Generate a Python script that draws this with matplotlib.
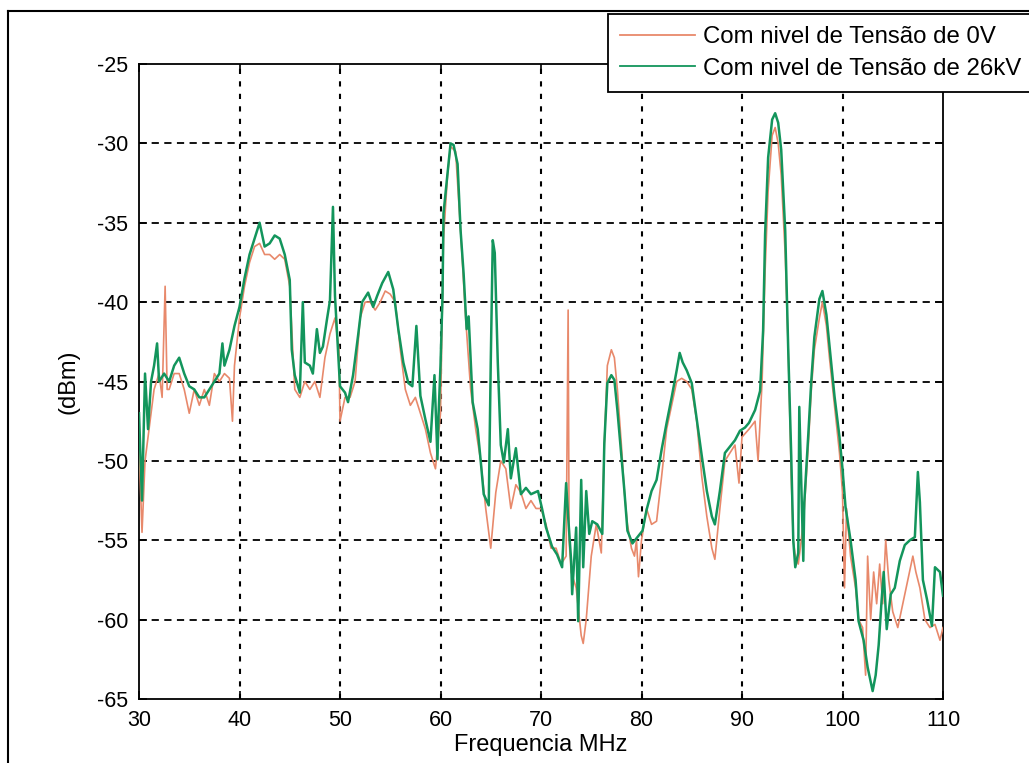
import matplotlib
matplotlib.use("Agg")
import matplotlib.pyplot as plt
from matplotlib.lines import Line2D

# ---------------- data ----------------
freq_0v = [30.0, 30.3, 30.6, 31.0, 31.5, 32.0, 32.3, 32.6, 32.8, 33.0, 33.5, 34.0, 34.5, 35.0, 35.5,
           36.0, 36.5, 37.0, 37.5, 38.0, 38.5, 39.0, 39.3, 39.5, 40.0, 40.5, 41.0, 41.5, 42.0, 42.5,
           43.0, 43.5, 44.0, 44.5, 45.0, 45.3, 45.5, 46.0, 46.5, 47.0, 47.5, 48.0, 48.5, 49.0, 49.5,
           49.9, 50.0, 50.5, 51.0, 51.5, 52.0, 52.5, 53.0, 53.5, 54.0, 54.5, 55.0, 55.5, 56.0, 56.5,
           57.0, 57.5, 58.0, 58.5, 59.0, 59.5, 60.0, 60.3, 60.7, 61.0, 61.5, 62.0, 62.5, 63.0, 63.5,
           64.0, 64.5, 65.0, 65.5, 66.0, 66.5, 67.0, 67.5, 68.0, 68.5, 69.0, 69.5, 70.0, 70.5, 71.0,
           71.5, 72.0, 72.5, 72.7, 72.8, 73.0, 73.5, 74.0, 74.2, 74.5, 75.0, 75.5, 76.0, 76.3, 76.6,
           77.0, 77.3, 77.6, 78.0, 78.3, 78.6, 79.0, 79.3, 79.5, 79.7, 80.0, 80.5, 81.0, 81.5, 82.0,
           82.5, 83.0, 83.5, 84.0, 84.5, 85.0, 85.5, 86.0, 86.5, 87.0, 87.3, 87.8, 88.3, 88.8, 89.3,
           89.7, 90.0, 90.7, 91.3, 91.6, 92.0, 92.3, 92.6, 93.0, 93.3, 93.6, 93.9, 94.3, 94.6, 94.9,
           95.1, 95.3, 95.6, 95.9, 96.2, 96.6, 96.9, 97.2, 97.7, 98.0, 98.4, 98.7, 99.2, 99.7, 100.0,
           100.2, 100.4, 100.8, 101.3, 101.6, 102.0, 102.3, 102.5, 102.8, 103.1, 103.4, 103.7, 104.0,
           104.3, 104.6, 105.0, 105.5, 106.0, 106.5, 107.0, 107.3, 107.7, 108.2, 108.7, 109.2, 109.7,
           110.0]
dbm_0v = [-49, -54.5, -50, -48, -45.5, -44.5, -46, -39, -45.5, -45.5, -44.5, -44.5, -45.5, -47, -45.5,
          -46.5, -45.5, -46.5, -44.5, -45, -44.5, -44.8, -47.5, -44, -41, -39, -37.5, -36.5, -36.3, -37,
          -37, -37.3, -37, -37.3, -39, -43, -45.5, -46, -45, -45.5, -45, -46, -43.5, -42, -41,
          -43, -47.5, -46, -46, -45, -41, -40, -40, -40.5, -40, -39.3, -39.5, -40, -43, -45.5,
          -46.5, -46, -47, -48, -49.5, -50.5, -47, -36, -32, -30.2, -30.5, -35.5, -41, -45.5, -48,
          -50, -53, -55.5, -52, -50, -50.5, -53, -51.5, -52, -53, -52.5, -53, -53, -54, -55.5,
          -55.5, -56.5, -56, -40.5, -55, -57, -58, -61, -61.5, -60, -56, -54, -55.8, -49, -44,
          -43, -43.5, -45.5, -49, -52, -54, -55.5, -56, -55, -57.3, -55, -53, -54, -53.8, -51,
          -48, -46.5, -45, -44.8, -45, -45.5, -47.5, -51, -53.5, -55.5, -56.2, -53, -50, -49.5, -49,
          -51.4, -48.5, -48, -47.5, -50, -45, -38, -33, -29.5, -29, -30, -32, -37, -43, -51,
          -55, -56, -56.5, -55, -53, -49, -45.5, -43, -41, -40, -41.5, -43.5, -46.5, -49.5, -52,
          -58, -53, -56, -58, -60, -60.5, -63.5, -56, -60, -57, -59, -56.5, -59,
          -55, -57.5, -59.5, -60.5, -59, -57.5, -56, -57, -58, -60, -60.5, -60.3, -61.3,
          -60.5]

freq_26kv = [30.0, 30.3, 30.6, 30.9, 31.2, 31.5, 31.8, 32.0, 32.5, 33.0, 33.5, 34.0, 34.5, 35.0, 35.5,
             36.0, 36.5, 37.0, 37.5, 38.0, 38.3, 38.5, 39.0, 39.5, 40.0, 40.5, 41.0, 41.5, 42.0, 42.5,
             43.0, 43.5, 44.0, 44.5, 45.0, 45.2, 45.5, 46.0, 46.3, 46.5, 47.0, 47.3, 47.7, 48.0, 48.3,
             48.7, 49.0, 49.3, 49.5, 50.0, 50.5, 50.8, 51.3, 51.8, 52.2, 52.8, 53.3, 53.7, 54.2, 54.8,
             55.3, 55.8, 56.3, 56.8, 57.2, 57.6, 58.0, 58.5, 59.0, 59.4, 59.7, 59.8, 60.0, 60.2, 60.3,
             60.7, 61.0, 61.3, 61.7, 62.0, 62.3, 62.6, 62.8, 63.2, 63.7, 64.0, 64.3, 64.8, 65.0, 65.2,
             65.4, 65.7, 66.0, 66.3, 66.7, 67.0, 67.5, 68.0, 68.5, 69.0, 69.7, 70.1, 70.5, 71.1, 71.6,
             72.1, 72.5, 72.7, 73.0, 73.1, 73.5, 73.7, 74.0, 74.2, 74.5, 74.8, 75.1, 75.6, 76.1, 76.3,
             76.6, 77.0, 77.3, 77.6, 78.0, 78.3, 78.6, 79.1, 79.6, 80.1, 80.5, 81.0, 81.5, 82.0, 82.5,
             83.0, 83.5, 83.8, 84.1, 84.5, 85.0, 85.5, 86.0, 86.5, 87.0, 87.3, 87.8, 88.3, 88.8, 89.3,
             89.8, 90.3, 90.7, 91.3, 91.8, 92.1, 92.3, 92.6, 93.0, 93.3, 93.6, 93.9, 94.3, 94.6, 94.9,
             95.1, 95.3, 95.6, 95.7, 95.9, 96.1, 96.2, 96.6, 96.9, 97.2, 97.7, 98.0, 98.4, 98.7, 99.2,
             99.7, 100.0, 100.3, 100.8, 101.3, 101.6, 102.1, 102.5, 103.0, 103.3, 103.6, 103.9, 104.1,
             104.4, 104.8, 105.2, 105.7, 106.2, 106.7, 107.2, 107.5, 107.7, 108.0, 108.4, 108.9, 109.2,
             109.7, 110.0]
dbm_26kv = [-47, -52.5, -44.5, -48, -45, -44, -42.6, -45, -44.5, -45, -44, -43.5, -44.5, -45.3, -45.5,
            -46, -46, -45.5, -45, -44.5, -42.6, -44, -43, -41.5, -40.3, -38.5, -37, -36, -35, -36.5,
            -36.3, -35.8, -36, -37, -38.6, -43, -44.6, -45.7, -40, -43.8, -44, -44.5, -41.7, -43.2, -42.8,
            -41.1, -39.9, -34, -39.6, -45.3, -45.7, -46.3, -44.6, -42.1, -40, -39.4, -40.3, -39.6, -38.8, -38.1,
            -39.2, -41.7, -43.8, -45.1, -45.3, -41.5, -45.9, -47.4, -48.8, -44.6, -49.9, -47.2, -44, -39.6, -34.4,
            -31.9, -30, -30.1, -31.3, -35.5, -38.2, -41.7, -40.9, -46.3, -48, -50, -52.1, -52.8, -43.8, -36.1,
            -36.9, -43.8, -49, -50.1, -48, -51.1, -49.2, -52.1, -51.7, -52.1, -51.9, -53, -54.2, -55.4, -55.9,
            -56.7, -51.4, -53.5, -56.3, -58.4, -54.2, -60.1, -51.2, -56.7, -51.9, -54.6, -53.8, -54, -54.6, -48.9,
            -45.1, -44.6, -44.9, -46.8, -49.7, -51.9, -54.4, -55.2, -54.8, -54.4, -53.1, -51.9, -51.2, -49.3, -47.6,
            -46, -44.3, -43.2, -43.8, -44.3, -45.1, -47.4, -49.7, -51.9, -53.5, -54, -51.9, -49.5, -49.1, -48.7,
            -48.1, -47.9, -47.6, -46.8, -45.6, -41.8, -35.7, -30.9, -28.5, -28.1, -28.7, -30.4, -35.5, -43, -49.7,
            -55, -56.7, -55.8, -46.6, -51.4, -56.3, -52.6, -48.3, -44.9, -42.2, -39.8, -39.3, -40.8, -42.7, -45.9,
            -48.5, -50.5, -52.9, -55, -57.5, -60.1, -61.3, -63, -64.5, -63.5, -61.6, -58.7, -57,
            -60.6, -58.4, -58, -56.3, -55.3, -55, -54.8, -50.7, -52.6, -57.5, -58.7, -60.4, -56.7,
            -57, -58.5]

labels = ["Com nivel de Tensão de 0V", "Com nivel de Tensão de 26kV"]
x_ticks = [30, 40, 50, 60, 70, 80, 90, 100, 110]
y_ticks = [-65, -60, -55, -50, -45, -40, -35, -30, -25]
x_label = "Frequencia MHz"
y_label = "(dBm)"

# ---------------- figure ----------------
W, H = 1029, 763
plt.rcParams["font.family"] = ["Liberation Sans", "DejaVu Sans"]
fig = plt.figure(figsize=(W / 100, H / 100), dpi=100)
fig.patch.set_facecolor("white")

ax = fig.add_axes([139 / W, 1 - 699 / H, (943 - 139) / W, (699 - 64) / H])

c_0v = "#E8896B"
c_26 = "#13955C"
l1, = ax.plot(freq_0v, dbm_0v, color=c_0v, lw=1.2, label=labels[0], zorder=3)
l2, = ax.plot(freq_26kv, dbm_26kv, color=c_26, lw=1.8, label=labels[1], zorder=4)

ax.set_xlim(30, 110)
ax.set_ylim(-65, -25)
ax.set_xticks(x_ticks)
ax.set_yticks(y_ticks)
ax.set_xticklabels([str(t) for t in x_ticks])
ax.set_yticklabels([str(t) for t in y_ticks])

# grid: dashed horizontal, dotted vertical (MATLAB style)
for yv in y_ticks[1:-1]:
    ax.axhline(yv, color="black", lw=1.3, ls=(0, (4, 3)), zorder=1)
for xv in x_ticks[1:-1]:
    ax.axvline(xv, color="black", lw=1.5, ls=(0, (2.5, 3.5)), zorder=1)

ax.tick_params(direction="in", length=6, width=1.2, top=True, right=True,
               labelsize=15.5, colors="black")
ax.tick_params(axis="y", pad=8)
ax.tick_params(axis="x", pad=8)
for sp in ax.spines.values():
    sp.set_linewidth(1.3)
    sp.set_color("black")

ax.set_xlabel(x_label, fontsize=17, labelpad=2)
ax.set_ylabel(y_label, fontsize=17, labelpad=12)

leg = ax.legend(handles=[l1, l2], loc="upper left",
                bbox_to_anchor=(608 / W, 1 - 14 / H), bbox_transform=fig.transFigure,
                fontsize=17.3, frameon=True, fancybox=False, framealpha=1,
                edgecolor="black", borderpad=0.5, labelspacing=0.4,
                handlelength=3.1, handletextpad=0.35, borderaxespad=0)
leg.get_frame().set_linewidth(1.3)
for h in leg.legend_handles:
    h.set_linewidth(1.3)
leg.set_zorder(10)

# outer figure frame
fig.add_artist(Line2D([8 / W, 8 / W], [0, 1 - 11 / H], transform=fig.transFigure,
                      color="black", lw=1.5))
fig.add_artist(Line2D([8 / W, 1], [1 - 11 / H, 1 - 11 / H], transform=fig.transFigure,
                      color="black", lw=1.5))

fig.savefig("out.png", dpi=100, facecolor="white")
